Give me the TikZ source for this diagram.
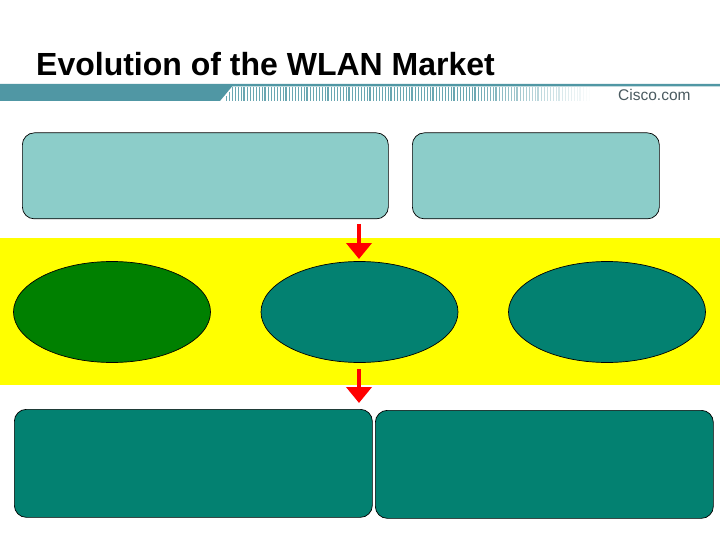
\documentclass[tikz,border=0pt]{standalone}
\usepackage{fontspec}
\setmainfont{Liberation Sans}
\usetikzlibrary{arrows.meta,shapes.geometric}
\definecolor{barteal}{HTML}{5097A4}
\definecolor{lightbox}{HTML}{8CCDC9}
\definecolor{darkteal}{HTML}{038171}
\definecolor{darkgreen}{HTML}{008000}
\definecolor{logogrey}{HTML}{4A5A60}
\definecolor{bandyellow}{HTML}{FFFF00}
\definecolor{arrowred}{HTML}{FF0000}
\tikzset{
  x=1pt,y=-1pt,
  panel/.style={draw=black,line width=0.7pt,rounded corners=12pt,inner sep=0pt,anchor=north west},
  lightpanel/.style={panel,fill=lightbox},
  darkpanel/.style={panel,fill=darkteal},
  oval/.style={ellipse,draw=black,line width=0.7pt,inner sep=0pt,minimum width=197pt,minimum height=101pt},
  redarrow/.style={draw=arrowred,line width=4.5pt,-{Triangle[width=25pt,length=16pt]},shorten >=0pt}
}
\begin{document}
\begin{tikzpicture}
\useasboundingbox (0,0) rectangle (720,540);
\fill[white] (0,0) rectangle (720,540);
% yellow band
\fill[bandyellow] (0,238) rectangle (720,385);
% header
\fill[barteal] (0,84) -- (720,84) -- (720,86.5) -- (232,86.5) -- (220,101) -- (0,101) -- cycle;
\foreach \x in {0,3,...,369}{
  \pgfmathsetmacro{\s}{\x<250 ? 85 : 85/119*(369-\x)}
  \pgfmathsetmacro{\w}{mod(\x,21)==0 ? 2.0 : 1.0}
  \pgfmathsetmacro{\ytop}{\x<9 ? 101-\x*1.5 : 87}
  \draw[barteal!\s!white,line width=\w pt] (223+\x,\ytop) -- (223+\x,101);
}
\node[anchor=base west,inner sep=0pt,font=\bfseries\fontsize{32pt}{36pt}\selectfont] (title) at (36,76) {Evolution of the WLAN Market};
\node[anchor=base west,inner sep=0pt,text=logogrey,font=\fontsize{15.5pt}{18pt}\selectfont] (logo) at (618,101) {Cisco.com};
% top boxes
\node[lightpanel,minimum width=366pt,minimum height=86pt] (a) at (22,132.5) {};
\node[lightpanel,minimum width=247pt,minimum height=86pt] (b) at (412,132.5) {};
% ovals
\node[oval,fill=darkgreen] (c) at (112,312) {};
\node[oval,fill=darkteal] (d) at (359.5,312) {};
\node[oval,fill=darkteal] (e) at (607,312) {};
% bottom boxes
\node[darkpanel,minimum width=358pt,minimum height=108pt] (f) at (14,409) {};
\node[darkpanel,minimum width=338pt,minimum height=108pt] (g) at (375,410) {};
% arrows
\coordinate (a1s) at (359,224);
\coordinate (a1e) at (359,259);
\coordinate (a2s) at (359,369);
\coordinate (a2e) at (359,403);
\draw[redarrow] (a1s) -- (a1e);
\draw[redarrow] (a2s) -- (a2e);
\end{tikzpicture}
\end{document}
